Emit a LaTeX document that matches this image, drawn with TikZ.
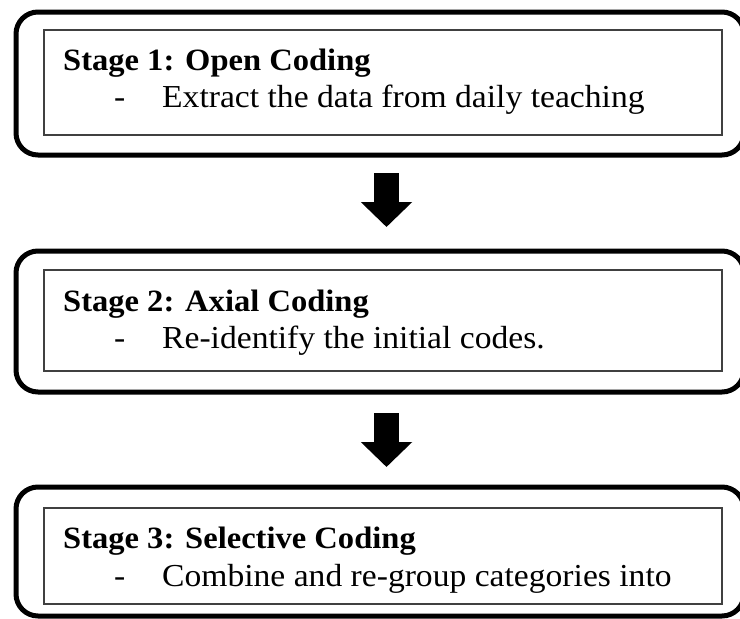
\documentclass[tikz,border=0pt]{standalone}
\usepackage{fontspec}
\setmainfont{Liberation Serif}[FakeStretch=1.05]
\usetikzlibrary{arrows.meta}
\tikzset{
  outerbox/.style={draw=black, line width=5pt, rounded corners=22pt, inner sep=0pt, minimum width=728pt},
  innerbox/.style={draw=black!75, line width=1.3pt, inner sep=0pt, minimum width=678pt},
  headtxt/.style={anchor=base west, inner sep=0pt, font=\fontsize{31pt}{36pt}\selectfont\bfseries},
  bodytxt/.style={anchor=base west, inner sep=0pt, font=\fontsize{32pt}{36pt}\selectfont},
  bigarrow/.style={draw=black, line width=25pt, line cap=butt, -{Triangle[length=25pt, width=50pt]}}
}
\begin{document}
\begin{tikzpicture}[x=1pt, y=1pt]
\useasboundingbox (0,0) rectangle (740,-619);
% outer rounded frames
\node[outerbox, minimum height=143pt] (o1) at (380,-83.5) {};
\node[outerbox, minimum height=141pt] (o2) at (380,-321.5) {};
\node[outerbox, minimum height=129pt] (o3) at (380,-551.5) {};
% inner boxes
\node[innerbox, minimum height=105pt] (i1) at (383,-82.5) {};
\node[innerbox, minimum height=101pt] (i2) at (383,-320.5) {};
\node[innerbox, minimum height=96pt] (i3) at (383,-556) {};
% texts
\node[headtxt] (h1) at (63,-70) {Stage 1: Open Coding};
\node[bodytxt] (b1) at (114,-107) {\makebox[48pt][l]{-}Extract the data from daily teaching};
\node[headtxt] (h2) at (63,-311) {Stage 2: Axial Coding};
\node[bodytxt] (b2) at (114,-348) {\makebox[48pt][l]{-}Re-identify the initial codes.};
\node[headtxt] (h3) at (63,-548) {Stage 3: Selective Coding};
\node[bodytxt] (b3) at (114,-586) {\makebox[48pt][l]{-}Combine and re-group categories into};
% arrows
\coordinate (a1s) at (386.5,-173);
\coordinate (a1e) at (386.5,-227);
\coordinate (a2s) at (386.5,-413);
\coordinate (a2e) at (386.5,-467);
\draw[bigarrow] (a1s) -- (a1e);
\draw[bigarrow] (a2s) -- (a2e);
\end{tikzpicture}
\end{document}
